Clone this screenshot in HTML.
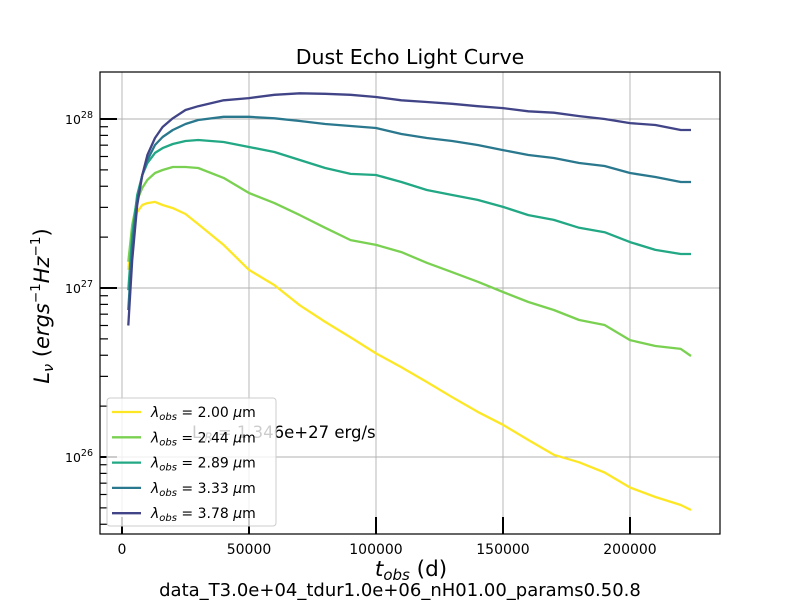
<!DOCTYPE html>
<html><head><meta charset="utf-8"><style>
body{margin:0;background:#fff;}
svg{font-family:"DejaVu Sans","Liberation Sans",sans-serif;}
</style></head><body>
<svg id="chart" width="800" height="600" viewBox="0 0 800 600" xmlns="http://www.w3.org/2000/svg">
<rect width="800" height="600" fill="#fff"/>
<g id="grid"></g>
<text x="192" y="438" font-size="16.5" fill="#000">L<tspan font-style="italic" font-size="11.5" dy="3">IR</tspan><tspan dy="-3"> = 1.346e+27 erg/s</tspan></text>
<g id="series"></g>
<g id="axes"></g>
<text x="410" y="64" font-size="20.5" text-anchor="middle">Dust Echo Light Curve</text>
<text x="411" y="576" font-size="21.5" text-anchor="middle"><tspan font-style="italic">t</tspan><tspan font-style="italic" font-size="15" dy="4">obs</tspan><tspan dy="-4"> (d)</tspan></text>
<text x="400" y="596" font-size="18" text-anchor="middle">data_T3.0e+04_tdur1.0e+06_nH01.00_params0.50.8</text>
<text transform="translate(49,306) rotate(-90)" font-size="21" text-anchor="middle"><tspan font-style="italic">L</tspan><tspan font-style="italic" font-size="14.5" dy="4">ν</tspan><tspan dy="-4"> (</tspan><tspan font-style="italic">ergs</tspan><tspan font-size="13.5" dy="-9">−1</tspan><tspan font-style="italic" dy="9">Hz</tspan><tspan font-size="13.5" dy="-9">−1</tspan><tspan dy="9">)</tspan></text>
<g id="legend"></g>
</svg>
<script>
const times=[2500,4000,6000,8000,10000,13000,16000,20000,25000,30000,40000,50000,60000,70000,80000,90000,100000,110000,120000,130000,140000,150000,160000,170000,180000,190000,200000,210000,220000,224000];
const seriesLabels=["2.00","2.44","2.89","3.33","3.78"];
const seriesColors=["#fde725","#7ad151","#22a884","#2a788e","#414487"];
// luminosity in units of 1e27 erg/s/Hz
const lum200=[1.28,2.20,2.82,3.10,3.18,3.23,3.10,2.97,2.74,2.39,1.80,1.28,1.04,0.79,0.63,0.51,0.41,0.34,0.278,0.226,0.185,0.155,0.126,0.103,0.093,0.081,0.066,0.058,0.052,0.0486];
const lum244=[1.43,2.36,3.32,3.91,4.36,4.79,4.99,5.20,5.20,5.13,4.48,3.65,3.18,2.70,2.27,1.92,1.80,1.63,1.41,1.24,1.09,0.947,0.826,0.741,0.647,0.604,0.492,0.454,0.436,0.396];
const lum289=[0.97,2.06,3.55,4.66,5.49,6.30,6.73,7.11,7.41,7.51,7.31,6.83,6.38,5.72,5.13,4.73,4.66,4.24,3.80,3.55,3.32,3.02,2.70,2.53,2.27,2.14,1.87,1.68,1.59,1.59];
const lum333=[0.74,1.80,3.32,4.66,5.72,7.02,7.82,8.61,9.34,9.86,10.3,10.3,10.1,9.73,9.34,9.09,8.85,8.15,7.72,7.41,7.02,6.55,6.12,5.88,5.49,5.27,4.79,4.54,4.24,4.24];
const lum378=[0.60,1.46,3.10,4.66,6.12,7.72,8.97,10.1,11.3,11.9,12.9,13.3,13.9,14.2,14.1,13.9,13.5,12.9,12.6,12.3,11.9,11.6,11.1,10.9,10.4,10.0,9.46,9.21,8.61,8.61];
const allSeries=[lum200,lum244,lum289,lum333,lum378];
const xTicks=[0,50000,100000,150000,200000];
const yDecades=[26,27,28];

const L=100,R=720,T=72,B=534;
const X=t=>122+(t/50000)*127;
const Y=v=>288-169*Math.log10(v); // v in 1e27
const NS="http://www.w3.org/2000/svg";
function mk(tag,attrs,parent){const e=document.createElementNS(NS,tag);for(const k in attrs)e.setAttribute(k,attrs[k]);parent.appendChild(e);return e;}
const grid=document.getElementById('grid'),axes=document.getElementById('axes'),ser=document.getElementById('series'),leg=document.getElementById('legend');

xTicks.forEach(t=>{
 const x=X(t);
 const g=mk('line',{x1:x,x2:x,y1:T,y2:B,stroke:'#b0b0b0','stroke-width':0.9},grid);
 
 
 const tk=mk('line',{x1:x,x2:x,y1:B,y2:B-17,stroke:'#000','stroke-width':2},axes);
 
 
 const lb=mk('text',{x:x,y:B+20,'font-size':14,'text-anchor':'middle'},axes);
 lb.textContent=String(t);
 
 
});
yDecades.forEach(d=>{
 const y=Y(Math.pow(10,d-27));
 const g=mk('line',{x1:L,x2:R,y1:y,y2:y,stroke:'#b0b0b0','stroke-width':0.9},grid);
 
 
 const tk=mk('line',{x1:L,x2:L+17,y1:y,y2:y,stroke:'#000','stroke-width':2},axes);
 
 
 const lb=mk('text',{x:93,y:y+5,'font-size':12.5,'text-anchor':'end'},axes);
 lb.innerHTML='10<tspan font-size="9.5" dy="-6">'+d+'</tspan>';
 
 
});
[25,26,27].forEach(d=>{for(let m=2;m<=9;m++){
 const y=Y(m*Math.pow(10,d-27));
 if(y<T||y>B)continue;
 const tk=mk('line',{x1:L,x2:L+8,y1:y,y2:y,stroke:'#000','stroke-width':1.2},axes);
 
 
}});
const frame=mk('rect',{x:L,y:T,width:R-L,height:B-T,fill:'none',stroke:'#000','stroke-width':1.2},axes);



allSeries.forEach((vals,i)=>{
 const d=vals.map((v,j)=>(j?'L':'M')+X(times[j]).toFixed(1)+','+Y(v).toFixed(1)).join(' ');
 const p=mk('path',{d:d,fill:'none',stroke:seriesColors[i],'stroke-width':2.3,'stroke-linejoin':'round'},ser);
 
 
});

const box=mk('rect',{x:107,y:398,width:169,height:128,rx:3,fill:'#fff','fill-opacity':0.8,stroke:'#ccc','stroke-width':1},leg);


seriesLabels.forEach((lab,i)=>{
 const y=412+i*25.3;
 const g=mk('g',{},leg);
 
 
 mk('line',{x1:112,x2:141,y1:y,y2:y,stroke:seriesColors[i],'stroke-width':2.3},g);
 const t=mk('text',{x:151,y:y+5,'font-size':14},g);
 t.innerHTML='<tspan font-style="italic">λ</tspan><tspan font-style="italic" font-size="10" dy="3">obs</tspan><tspan dy="-3"> = '+lab+' </tspan><tspan font-style="italic">μ</tspan>m';
});
</script>
</body></html>
